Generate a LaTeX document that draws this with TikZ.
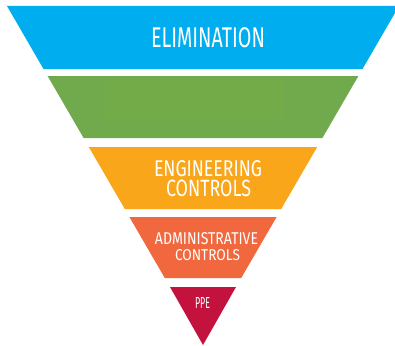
\documentclass[tikz,border=0pt]{standalone}
\usepackage{fontspec}
\setmainfont{Fira Sans}
\usepackage{graphicx}
\definecolor{cblue}{RGB}{0,174,239}
\definecolor{cgreen}{RGB}{112,170,76}
\definecolor{cgreenin}{RGB}{114,171,72}
\definecolor{corange}{RGB}{250,166,26}
\definecolor{cadmin}{RGB}{241,104,62}
\definecolor{cppe}{RGB}{196,18,62}
\tikzset{
  band/.style={fill=#1, draw=none},
  lbl/.style={inner sep=0pt, text=white, anchor=center},
}
\newcommand{\fitword}[3]{\resizebox{#1pt}{#2pt}{#3}}
\begin{document}
\begin{tikzpicture}[x=1pt,y=-1pt]
\useasboundingbox[fill=white] (0,0) rectangle (395,345);
% left edge: x = 7 + 0.58*(y-6); right edge mirrored about 203
\fill[band=cblue] (7,6) -- (399,6) -- (362.5,69) -- (43.5,69) -- cycle;
\fill[band=cgreen] (47.6,76) -- (358.4,76) -- (322.4,138) -- (83.6,138) -- cycle;
\fill[band=cgreenin] (105,77) rectangle (284,120);
\fill[band=corange] (88.8,147) -- (317.2,147) -- (281.2,209) -- (124.8,209) -- cycle;
\fill[band=cadmin] (129.4,217) -- (276.6,217) -- (241.2,278) -- (164.8,278) -- cycle;
\fill[band=cppe] (170,287) -- (236,287) -- (203,345) -- cycle;
\node[lbl] (elim) at (208,38) {\fitword{114}{20}{ELIMINATION}};
\node[lbl] (eng1) at (208,168.5) {\fitword{108}{16}{ENGINEERING}};
\node[lbl] (eng2) at (208.5,188.5) {\fitword{85}{16.5}{CONTROLS}};
\node[lbl] (adm1) at (206.5,239) {\fitword{103}{12}{ADMINISTRATIVE}};
\node[lbl] (adm2) at (207.5,255.5) {\fitword{65}{11}{CONTROLS}};
\node[lbl] (ppe) at (202.5,302.5) {\fitword{15}{11}{PPE}};
\end{tikzpicture}
\end{document}
